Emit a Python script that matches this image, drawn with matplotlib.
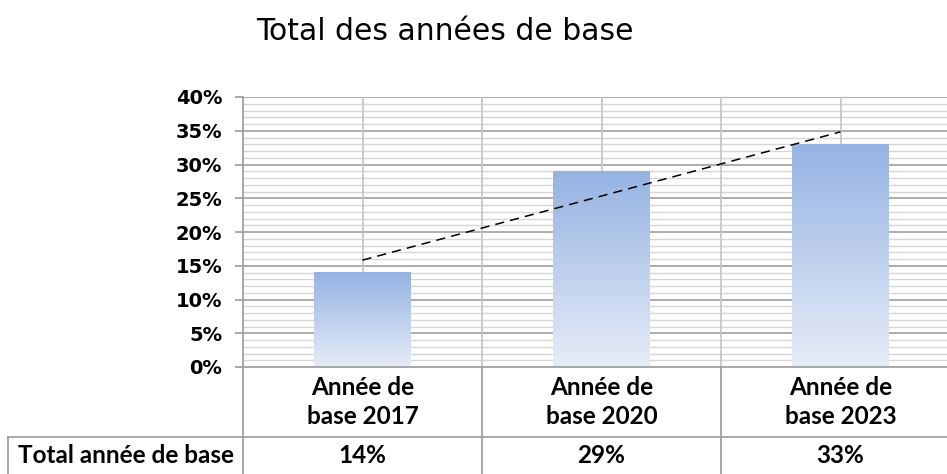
import numpy as np
import matplotlib
matplotlib.use("Agg")
import matplotlib.pyplot as plt
from matplotlib.colors import LinearSegmentedColormap

# data
categories = ["Année de\nbase 2017", "Année de\nbase 2020", "Année de\nbase 2023"]
values = [14, 29, 33]
value_labels = ["14%", "29%", "33%"]
row_label = "Total année de base"
title = "Total des années de base"

W, H = 947, 474
fig = plt.figure(figsize=(W / 100, H / 100), dpi=100)

# plot area in pixels (right edge runs past the image like the original)
left, right, top, bottom = 243, 960, 97, 367
ax = fig.add_axes([left / W, 1 - bottom / H, (right - left) / W, (bottom - top) / H])

x = np.arange(len(values))

# gradient bars
cmap = LinearSegmentedColormap.from_list("barfill", ["#e6ecf7", "#95b3e3"])
grad = np.linspace(0, 1, 256).reshape(-1, 1)
bw = 0.405
for xi, v in zip(x, values):
    ax.imshow(grad, extent=(xi - bw / 2, xi + bw / 2, 0, v), origin="lower",
              cmap=cmap, aspect="auto", zorder=2)
ax.set_xlim(-0.5, len(values) - 0.5)
ax.set_ylim(0, 40)

# linear trend line
k, b = np.polyfit(x, values, 1)
ax.plot(x[[0, -1]], k * x[[0, -1]] + b, color="black", lw=1.1,
        ls=(0, (6, 4)), zorder=3)

# gridlines
for yv in range(1, 41):
    major = yv % 5 == 0
    ax.axhline(yv, color="#a6a6a6" if major else "#d6d6d6",
               lw=1.3 if major else 1.0, zorder=0)
for xv in np.arange(0, len(values) - 0.5, 0.5):
    ax.axvline(xv, color="#c4c4c4", lw=1.2, zorder=0)

for s in ["top", "right"]:
    ax.spines[s].set_visible(False)
for s in ["left", "bottom"]:
    ax.spines[s].set_color("#a0a0a0")
    ax.spines[s].set_linewidth(1.3)
    ax.spines[s].set_zorder(4)

ax.set_yticks(range(0, 41, 5))
ax.set_yticklabels([f"{t}%" for t in range(0, 41, 5)],
                   fontsize=14, fontweight="bold", family="DejaVu Sans")
ax.tick_params(axis="y", length=6, color="#a0a0a0", width=1.3, pad=9)
ax.set_xticks([])

# data table below the axis
tr = ax.get_xaxis_transform()
row_h = (437 - 367) / (bottom - top)
tbl_font = dict(fontsize=17.5, fontweight="bold", family=["Lato", "DejaVu Sans"])
line_kw = dict(color="#a0a0a0", lw=1.3, transform=tr, clip_on=False)
label_left = -0.5 - (left - 8) / ((right - left) / len(values))
for xv in np.arange(-0.5, len(values), 1.0):
    ax.plot([xv, xv], [0, -0.5], **line_kw)
ax.plot([label_left, len(values) - 0.5], [-row_h, -row_h], **line_kw)
ax.plot([label_left, label_left], [-row_h, -0.5], **line_kw)

for xi, c, vl in zip(x, categories, value_labels):
    ax.text(xi, -row_h / 2, c, transform=tr, ha="center", va="center",
            linespacing=1.3, **tbl_font)
    ax.text(xi, -row_h - 0.07, vl, transform=tr, ha="center", va="center",
            **tbl_font)
ax.text((label_left - 0.5) / 2, -row_h - 0.07, row_label, transform=tr,
        ha="center", va="center", **tbl_font)

fig.text(445 / W, 1 - 31 / H, title, ha="center", va="center",
         fontsize=21.5, family="DejaVu Sans")

fig.savefig("out.png", dpi=100)
